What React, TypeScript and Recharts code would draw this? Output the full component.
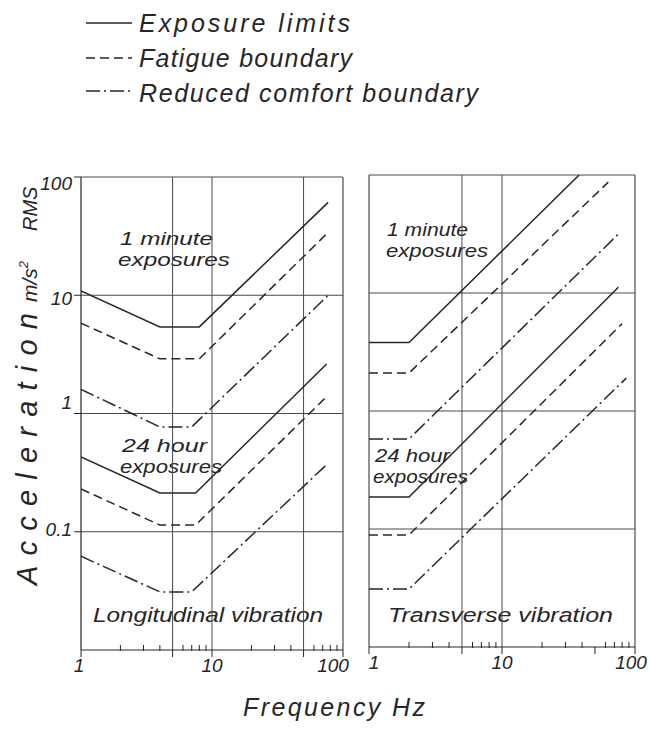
import React from 'react';
import { LineChart, Line, XAxis, YAxis, ReferenceLine, Legend } from 'recharts';

type Pt = { f: number; a: number };

// ---- axes ----
const FREQ_DOMAIN: [number, number] = [1, 100];
const ACC_DOMAIN: [number, number] = [0.01, 100];
const FREQ_TICKS = [1, 2, 3, 4, 5, 6, 7, 8, 9, 10, 20, 30, 40, 50, 60, 70, 80, 90, 100];
const FREQ_LABELS = [1, 10, 100];
const FREQ_MAJOR = [1, 5, 10, 50, 100];
const ACC_TICKS = [0.1, 1, 10, 100];
const ACC_GRID = [0.1, 1, 10, 100];
const LONG_FREQ_GRID = [5, 10, 50, 100];
const TRANS_FREQ_GRID = [1, 5, 10, 100];

// ---- legend ----
const SERIES_NAMES = ['Exposure limits', 'Fatigue boundary', 'Reduced comfort boundary'];

// ---- Longitudinal vibration (Hz, m/s² RMS) ----
const LONG_EXPOSURE_1MIN: Pt[] = [{ f: 1, a: 10.9 }, { f: 4, a: 5.4 }, { f: 8, a: 5.4 }, { f: 77, a: 61 }];
const LONG_FATIGUE_1MIN: Pt[] = [{ f: 1, a: 5.8 }, { f: 4, a: 2.9 }, { f: 8, a: 2.9 }, { f: 77, a: 34 }];
const LONG_COMFORT_1MIN: Pt[] = [{ f: 1, a: 1.6 }, { f: 4, a: 0.77 }, { f: 7, a: 0.77 }, { f: 77, a: 10 }];
const LONG_EXPOSURE_24H: Pt[] = [{ f: 1, a: 0.43 }, { f: 4, a: 0.213 }, { f: 7.5, a: 0.213 }, { f: 75, a: 2.62 }];
const LONG_FATIGUE_24H: Pt[] = [{ f: 1, a: 0.23 }, { f: 4, a: 0.114 }, { f: 7.5, a: 0.114 }, { f: 77, a: 1.43 }];
const LONG_COMFORT_24H: Pt[] = [{ f: 1, a: 0.062 }, { f: 4, a: 0.031 }, { f: 7, a: 0.031 }, { f: 77, a: 0.38 }];

// ---- Transverse vibration (Hz, m/s² RMS) ----
const TRANS_EXPOSURE_1MIN: Pt[] = [{ f: 1, a: 3.8 }, { f: 2, a: 3.8 }, { f: 38, a: 100 }];
const TRANS_FATIGUE_1MIN: Pt[] = [{ f: 1, a: 2.1 }, { f: 2, a: 2.1 }, { f: 63, a: 87 }];
const TRANS_COMFORT_1MIN: Pt[] = [{ f: 1, a: 0.58 }, { f: 2, a: 0.58 }, { f: 75, a: 31.6 }];
const TRANS_EXPOSURE_24H: Pt[] = [{ f: 1, a: 0.187 }, { f: 2, a: 0.187 }, { f: 75, a: 11.2 }];
const TRANS_FATIGUE_24H: Pt[] = [{ f: 1, a: 0.089 }, { f: 2, a: 0.089 }, { f: 80, a: 5.5 }];
const TRANS_COMFORT_24H: Pt[] = [{ f: 1, a: 0.031 }, { f: 2, a: 0.031 }, { f: 86, a: 1.9 }];

// ---- styles ----
const INK = '#262626';
const GRID = '#4a4a4a';
const FONT = '"Liberation Sans", "DejaVu Sans", sans-serif';
const DASHES = [undefined, '9 5', '14 4 2 4'];

const LONG_SERIES: [Pt[], number][] = [
  [LONG_EXPOSURE_1MIN, 0], [LONG_FATIGUE_1MIN, 1], [LONG_COMFORT_1MIN, 2],
  [LONG_EXPOSURE_24H, 0], [LONG_FATIGUE_24H, 1], [LONG_COMFORT_24H, 2],
];
const TRANS_SERIES: [Pt[], number][] = [
  [TRANS_EXPOSURE_1MIN, 0], [TRANS_FATIGUE_1MIN, 1], [TRANS_COMFORT_1MIN, 2],
  [TRANS_EXPOSURE_24H, 0], [TRANS_FATIGUE_24H, 1], [TRANS_COMFORT_24H, 2],
];

const txt = (size: number): React.CSSProperties => ({
  fontFamily: FONT, fontStyle: 'italic', fontSize: size, fill: INK,
});

const makeXTick = (panel: 'L' | 'R') => (props: any) => {
  const { x, y, payload } = props;
  const v = payload.value as number;
  const major = FREQ_MAJOR.includes(v);
  let dx = 0;
  if (panel === 'L' && v === 1) dx = -2;
  if (panel === 'L' && v === 100) dx = -10;
  if (panel === 'R' && v === 1) dx = 5;
  if (panel === 'R' && v === 100) dx = -4;
  return (
    <g>
      {major ? (
        <line x1={x} x2={x} y1={y} y2={y + 7} stroke={INK} strokeWidth={1} />
      ) : (
        <line x1={x} x2={x} y1={y - 5} y2={y + 1} stroke={INK} strokeWidth={1} />
      )}
      {FREQ_LABELS.includes(v) && (
        <text x={x + dx} y={y + 22} textAnchor="middle" style={txt(19)}>
          {v}
        </text>
      )}
    </g>
  );
};

const Y_LABEL_DY: Record<string, number> = { '100': 6, '10': 3, '1': -12, '0.1': -3 };
const YTick = (props: any) => {
  const { x, y, payload } = props;
  const v = payload.value as number;
  const dy = Y_LABEL_DY[String(v)] ?? 0;
  return (
    <text x={x} y={y + dy + 7} textAnchor="end" style={txt(19)}>
      {v}
    </text>
  );
};

const LegendContent = () => (
  <svg width={520} height={125} style={{ display: 'block' }}>
    {SERIES_NAMES.map((name, i) => {
      const ly = [23, 58, 91][i];
      const by = [32, 67, 102][i];
      const len = [211, 213, 339][i];
      return (
        <g key={name}>
          <line x1={86} x2={132} y1={ly} y2={ly} stroke={INK} strokeWidth={1.6} strokeDasharray={DASHES[i]} />
          <text x={139} y={by} textLength={len} lengthAdjust="spacing" style={txt(25)}>
            {name}
          </text>
        </g>
      );
    })}
  </svg>
);

const renderLines = (series: [Pt[], number][], prefix: string) =>
  series.map(([pts, kind], i) => (
    <Line
      key={prefix + i}
      data={pts}
      dataKey="a"
      name={SERIES_NAMES[kind]}
      type="linear"
      stroke={INK}
      strokeWidth={1.5}
      strokeDasharray={DASHES[kind]}
      dot={false}
      activeDot={false}
      legendType="none"
      isAnimationActive={false}
    />
  ));

const Annot = ({ x, y, len, size = 19, children }: any) => (
  <text x={x} y={y} textLength={len} lengthAdjust="spacingAndGlyphs" style={txt(size)}>
    {children}
  </text>
);

export default function App() {
  return (
    <div style={{ position: 'absolute', left: 0, top: 0, width: 649, height: 745, background: '#fff' }}>
      {/* Left panel: longitudinal vibration */}
      <div style={{ position: 'absolute', left: 0, top: 0 }}>
        <LineChart width={649} height={745} margin={{ top: 177, right: 306, bottom: 65, left: 0 }}>
          <XAxis
            dataKey="f"
            type="number"
            scale="log"
            domain={FREQ_DOMAIN}
            allowDataOverflow
            ticks={FREQ_TICKS}
            interval={0}
            height={30}
            tickSize={0}
            tickMargin={0}
            tickLine={false}
            axisLine={{ stroke: INK, strokeWidth: 1.2 }}
            tick={makeXTick('L')}
          />
          <YAxis
            dataKey="a"
            type="number"
            scale="log"
            domain={ACC_DOMAIN}
            allowDataOverflow
            ticks={ACC_TICKS}
            interval={0}
            width={81}
            tickSize={7}
            tickMargin={2}
            tickLine={{ stroke: INK }}
            axisLine={{ stroke: INK, strokeWidth: 1.2 }}
            tick={<YTick />}
          />
          {ACC_GRID.map((v) => (
            <ReferenceLine key={'ly' + v} y={v} stroke={GRID} strokeWidth={1} />
          ))}
          {LONG_FREQ_GRID.map((v) => (
            <ReferenceLine key={'lx' + v} x={v} stroke={GRID} strokeWidth={v === 100 ? 1.2 : 1} />
          ))}
          {renderLines(LONG_SERIES, 'L')}
          <Legend
            layout="horizontal"
            verticalAlign="middle"
            align="center"
            content={<LegendContent />}
            wrapperStyle={{ position: 'absolute', left: 0, top: 0, width: 520, height: 125 }}
          />
          {/* axis titles */}
          <g>
            <text transform="rotate(-90 37 585)" x={37} y={585} textLength={272} lengthAdjust="spacing" style={txt(29)}>
              Acceleration
            </text>
            <text transform="rotate(-90 37 302)" x={37} y={302} style={txt(21)}>
              m/s<tspan dy={-9} fontSize={13}>2</tspan>
            </text>
            <text transform="rotate(-90 37 231)" x={37} y={231} style={txt(20)}>
              RMS
            </text>
            <text x={243} y={716} textLength={182} lengthAdjust="spacing" style={txt(25)}>
              Frequency  Hz
            </text>
          </g>
          {/* panel annotations */}
          <g>
            <Annot x={120} y={245} len={93}>1 minute</Annot>
            <Annot x={118} y={266} len={112}>exposures</Annot>
            <Annot x={122} y={452} len={85}>24 hour</Annot>
            <Annot x={120} y={473} len={102}>exposures</Annot>
            <Annot x={93} y={622} len={230} size={20}>Longitudinal vibration</Annot>
            <Annot x={387} y={236} len={81}>1 minute</Annot>
            <Annot x={386} y={257} len={102}>exposures</Annot>
            <Annot x={375} y={462} len={75}>24 hour</Annot>
            <Annot x={373} y={483} len={95}>exposures</Annot>
            <Annot x={388} y={622} len={225} size={20}>Transverse vibration</Annot>
          </g>
        </LineChart>
      </div>

      {/* Right panel: transverse vibration */}
      <div style={{ position: 'absolute', left: 355, top: 0 }}>
        <LineChart width={294} height={745} margin={{ top: 175, right: 14, bottom: 68, left: 14 }}>
          <XAxis
            dataKey="f"
            type="number"
            scale="log"
            domain={FREQ_DOMAIN}
            allowDataOverflow
            ticks={FREQ_TICKS}
            interval={0}
            height={30}
            tickSize={0}
            tickMargin={0}
            tickLine={false}
            axisLine={{ stroke: INK, strokeWidth: 1.2 }}
            tick={makeXTick('R')}
          />
          <YAxis dataKey="a" type="number" scale="log" domain={ACC_DOMAIN} allowDataOverflow hide width={0} />
          {ACC_GRID.map((v) => (
            <ReferenceLine key={'ry' + v} y={v} stroke={GRID} strokeWidth={1} />
          ))}
          {TRANS_FREQ_GRID.map((v) => (
            <ReferenceLine key={'rx' + v} x={v} stroke={GRID} strokeWidth={v === 1 || v === 100 ? 1.2 : 1} />
          ))}
          {renderLines(TRANS_SERIES, 'R')}
        </LineChart>
      </div>
    </div>
  );
}
